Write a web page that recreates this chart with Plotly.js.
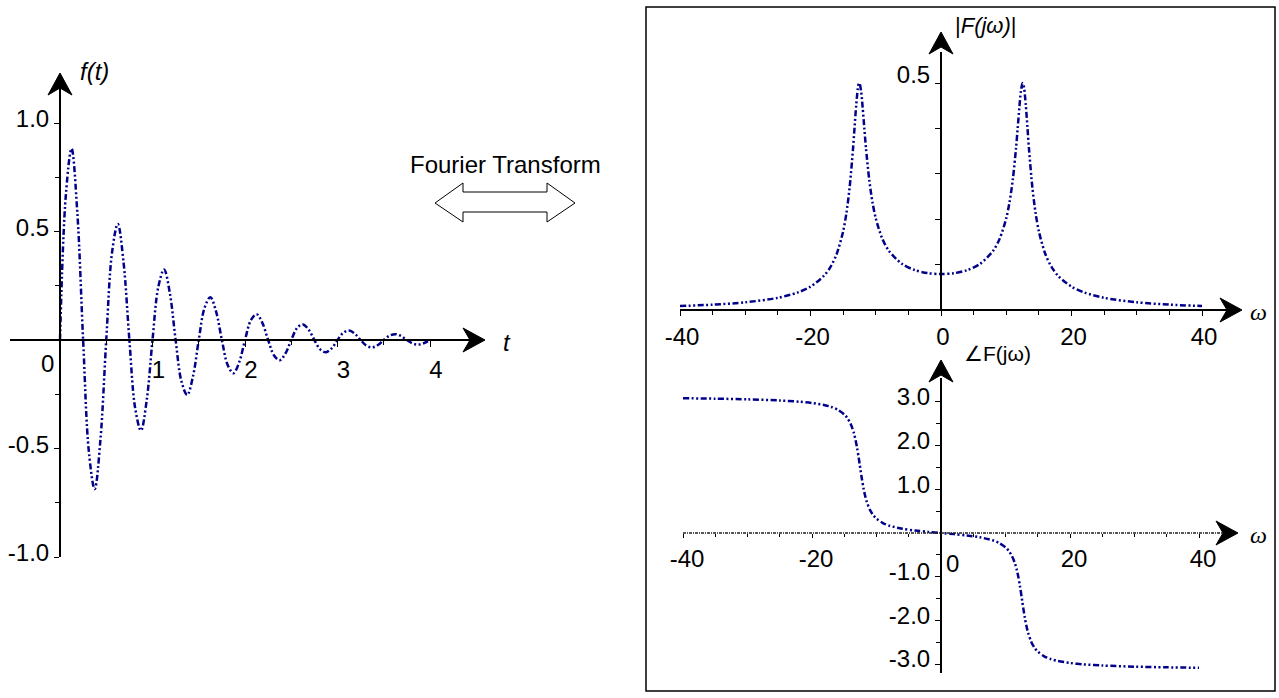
<!DOCTYPE html>
<html><head><meta charset="utf-8">
<script src="https://cdn.plot.ly/plotly-3.0.1.min.js"></script>
<style>html,body{margin:0;padding:0;background:#fff}</style>
</head><body><div id="chart" style="width:1279px;height:698px"></div>
<script>
// ---- data ----
const tValues = [0,0.0625,0.125,0.1875,0.25,0.3125,0.375,0.4375,0.5,0.5625,0.625,0.6875,0.75,0.8125,0.875,0.9375,1,
 1.0625,1.125,1.1875,1.25,1.3125,1.375,1.4375,1.5,1.5625,1.625,1.6875,1.75,1.8125,1.875,1.9375,2,
 2.0625,2.125,2.1875,2.25,2.3125,2.375,2.4375,2.5,2.5625,2.625,2.6875,2.75,2.8125,2.875,2.9375,3,
 3.0625,3.125,3.1875,3.25,3.3125,3.375,3.4375,3.5,3.5625,3.625,3.6875,3.75,3.8125,3.875,3.9375,4];
const fValues = [0,0.664,0.882,0.586,0,-0.517,-0.687,-0.457,0,0.403,0.535,0.356,0,-0.314,-0.417,-0.277,0,
 0.244,0.325,0.216,0,-0.190,-0.253,-0.168,0,0.148,0.197,0.131,0,-0.115,-0.153,-0.102,0,
 0.090,0.119,0.079,0,-0.070,-0.093,-0.062,0,0.055,0.072,0.048,0,-0.043,-0.056,-0.038,0,
 0.033,0.044,0.029,0,-0.026,-0.034,-0.023,0,0.020,0.027,0.018,0,-0.016,-0.021,-0.014,0];

const omega = [-40,-35,-30,-25,-22,-20,-18,-17,-16,-15,-14.5,-14,-13.5,-13.25,-13,-12.75,-12.6,-12.5,-12.25,-12,-11.75,-11.5,-11,-10.5,-10,-9,-8,-6,-4,-2,
 0,2,4,6,8,9,10,10.5,11,11.5,11.75,12,12.25,12.5,12.6,12.75,13,13.25,13.5,14,14.5,15,16,17,18,20,22,25,30,35,40];
const magnitude = [0.0087,0.0118,0.0169,0.0268,0.0383,0.0514,0.0744,0.0934,0.1229,0.1731,0.2131,0.2704,0.352,0.4015,0.4505,0.4878,0.4986,0.4998,0.4824,0.4448,0.4001,0.357,0.2869,0.2371,0.2020,0.1572,0.1306,0.1018,0.0878,0.0811,
 0.0791,0.0811,0.0878,0.1018,0.1306,0.1572,0.2020,0.2371,0.2869,0.357,0.4001,0.4448,0.4824,0.4998,0.4986,0.4878,0.4505,0.4015,0.352,0.2704,0.2131,0.1731,0.1229,0.0934,0.0744,0.0514,0.0383,0.0268,0.0169,0.0118,0.0087];
const phase = [3.0862,3.0760,3.0608,3.0348,3.0071,2.9772,2.9270,2.8861,2.8233,2.7154,2.6275,2.4956,2.2841,2.1320,1.9412,1.7134,1.5652,1.4652,1.2243,1.0152,0.8454,0.7118,0.5258,0.4076,0.3274,0.2271,0.1667,0.0973,0.0559,0.0258,
 0,-0.0258,-0.0559,-0.0973,-0.1667,-0.2271,-0.3274,-0.4076,-0.5258,-0.7118,-0.8454,-1.0152,-1.2243,-1.4652,-1.5652,-1.7134,-1.9412,-2.1320,-2.2841,-2.4956,-2.6275,-2.7154,-2.8233,-2.8861,-2.9270,-2.9772,-3.0071,-3.0348,-3.0608,-3.0760,-3.0862];

const tTicks = [1,2,3,4], tTickText = ['1','2','3','4'];
const fTicks = [-1,-0.5,0.5,1], fTickText = ['-1.0','-0.5','0.5','1.0'];
const wTicks = [-40,-20,0,20,40], wTickText = ['-40','-20','0','20','40'];
const wTicks3 = [-40,-20,20,40], wTickText3 = ['-40','-20','20','40'];
const magTicks = [0.5], magTickText = ['0.5'];
const phTicks = [-3,-2,-1,1,2,3], phTickText = ['-3.0','-2.0','-1.0','1.0','2.0','3.0'];

// ---- layout helpers ----
const W = 1279, H = 698;
const px = x => x / W, py = y => 1 - y / H;
const curveColor = 'rgb(0,0,139)';
const dashStyle = '6px,2.5px,2px,2.5px,2px,2.5px';
const FONT = 'Liberation Sans, Arial, sans-serif';
const FS = 24;

function arrowRight(x, y) {
  return `M${px(x)},${py(y)} L${px(x-22)},${py(y-12)} L${px(x-15)},${py(y)} L${px(x-22)},${py(y+12)} Z`;
}
function arrowUp(x, y) {
  return `M${px(x)},${py(y)} L${px(x-12)},${py(y+22)} L${px(x)},${py(y+15)} L${px(x+12)},${py(y+22)} Z`;
}
function arrowShape(path) {
  return {type:'path', xref:'paper', yref:'paper', path, fillcolor:'black', line:{color:'black', width:1}};
}
const dbl = [[435,203],[463,183],[463,192],[547,192],[547,183],[575,203],[547,222],[547,212],[463,212],[463,222]];
const dblPath = 'M' + dbl.map(p => `${px(p[0])},${py(p[1])}`).join(' L') + ' Z';

const common = {showgrid:false, zeroline:false, showline:true, linecolor:'black', linewidth:2,
  ticks:'outside', tickcolor:'black', tickwidth:1, tickmode:'array', tickfont:{family:FONT, size:FS, color:'black'},
  anchor:'free', fixedrange:true};

const lineStyle = {color:curveColor, width:2.5, dash:dashStyle, shape:'spline'};
const traces = [
  {x:tValues, y:fValues, xaxis:'x', yaxis:'y', mode:'lines', line:Object.assign({smoothing:1}, lineStyle), hoverinfo:'skip'},
  {x:omega, y:magnitude, xaxis:'x2', yaxis:'y2', mode:'lines', line:Object.assign({smoothing:0.8}, lineStyle), hoverinfo:'skip'},
  {x:omega, y:phase, xaxis:'x3', yaxis:'y3', mode:'lines', line:Object.assign({smoothing:0.8}, lineStyle), hoverinfo:'skip'}
];

const layout = {
  width:W, height:H, margin:{l:0,r:0,t:0,b:0}, showlegend:false,
  paper_bgcolor:'white', plot_bgcolor:'rgba(0,0,0,0)',
  xaxis: Object.assign({}, common, {domain:[px(10), px(470)], range:[(10-60)/92.5, (470-60)/92.5], position:py(340),
    tickvals:tTicks, ticktext:tTickText, ticklen:6, ticklabelshift:6, ticklabelstandoff:2,
    minor:{tickmode:'array', tickvals:[0.5,1.5,2.5,3.5], ticks:'outside', ticklen:4, tickcolor:'black'}}),
  yaxis: Object.assign({}, common, {domain:[py(557), py(88)], range:[(340-557)/217, (340-88)/217], position:px(60),
    tickvals:fTicks, ticktext:fTickText, ticklen:5, ticklabelshift:-4,
    minor:{tickmode:'array', tickvals:[-0.75,-0.25,0.25,0.75], ticks:'outside', ticklen:4, tickcolor:'black'}}),
  xaxis2: Object.assign({}, common, {domain:[px(680), px(1228)], range:[-40, (1228-941)/6.525], position:py(310),
    tickvals:wTicks, ticktext:wTickText, ticklen:5, ticklabelshift:2,
    minor:{tickmode:'array', tickvals:[-35,-30,-25,-15,-10,-5,5,10,15,25,30,35], ticks:'outside', ticklen:4, tickcolor:'black'}}),
  yaxis2: Object.assign({}, common, {domain:[py(310), py(52)], range:[0, (310-52)/454], position:px(941),
    tickvals:magTicks, ticktext:magTickText, ticklen:5, ticklabelshift:-8,
    minor:{tickmode:'array', tickvals:[0.1,0.2,0.3,0.4], ticks:'outside', ticklen:5, tickcolor:'black'}}),
  xaxis3: Object.assign({}, common, {domain:[px(683), px(1226)], range:[-40, (1226-941)/6.45], position:py(533), showline:false,
    tickvals:wTicks3, ticktext:wTickText3, ticklen:4, ticklabelshift:4,
    minor:{tickmode:'array', tickvals:[-35,-30,-25,-15,-10,-5,5,10,15,25,30,35], ticks:'outside', ticklen:3, tickcolor:'black'}}),
  yaxis3: Object.assign({}, common, {domain:[py(673), py(378)], range:[(533-673)/43.67, (533-378)/43.67], position:px(941),
    tickvals:phTicks, ticktext:phTickText, ticklen:5, ticklabelshift:-5,
    minor:{tickmode:'array', tickvals:[-2.5,-1.5,-0.5,0.5,1.5,2.5], ticks:'outside', ticklen:4, tickcolor:'black'}}),
  shapes: [
    {type:'rect', xref:'paper', yref:'paper', x0:px(646), x1:px(1275), y0:py(691), y1:py(7), line:{color:'black', width:1.5}},
    {type:'line', xref:'paper', yref:'paper', x0:px(683), x1:px(1228), y0:py(533), y1:py(533), line:{color:'#222', width:1.5, dash:'3px,1px,1px,1px'}},
    arrowShape(arrowRight(485,340)), arrowShape(arrowUp(60,73)),
    arrowShape(arrowRight(1242,310)), arrowShape(arrowUp(941,32)),
    arrowShape(arrowRight(1238,533)), arrowShape(arrowUp(941,360)),
    {type:'path', xref:'paper', yref:'paper', path:dblPath, fillcolor:'white', line:{color:'black', width:1}}
  ],
  annotations: [
    {text:'Fourier Transform', x:px(506), y:py(165)},
    {text:'<i>f(t)</i>', x:px(94), y:py(71)},
    {text:'<i>t</i>', x:px(507), y:py(342)},
    {text:'0', x:px(47), y:py(363)},
    {text:'|<i>F(jω)</i>|', x:px(986), y:py(25), size:22},
    {text:'<i>ω</i>', x:px(1258), y:py(312), family:'Liberation Serif, Times New Roman, serif'},
    {text:'<i>ω</i>', x:px(1258), y:py(535), family:'Liberation Serif, Times New Roman, serif'},
    {text:'∠F(jω)', x:px(997), y:py(353), size:21},
    {text:'0', x:px(952), y:py(563)}
  ].map(a => ({text:a.text, x:a.x, y:a.y, xref:'paper', yref:'paper', showarrow:false, xanchor:'center', yanchor:'middle',
    font:{family:a.family || FONT, size:a.size || FS, color:'black'}}))
};

Plotly.newPlot('chart', traces, layout, {staticPlot:true, displayModeBar:false});
</script></body></html>
